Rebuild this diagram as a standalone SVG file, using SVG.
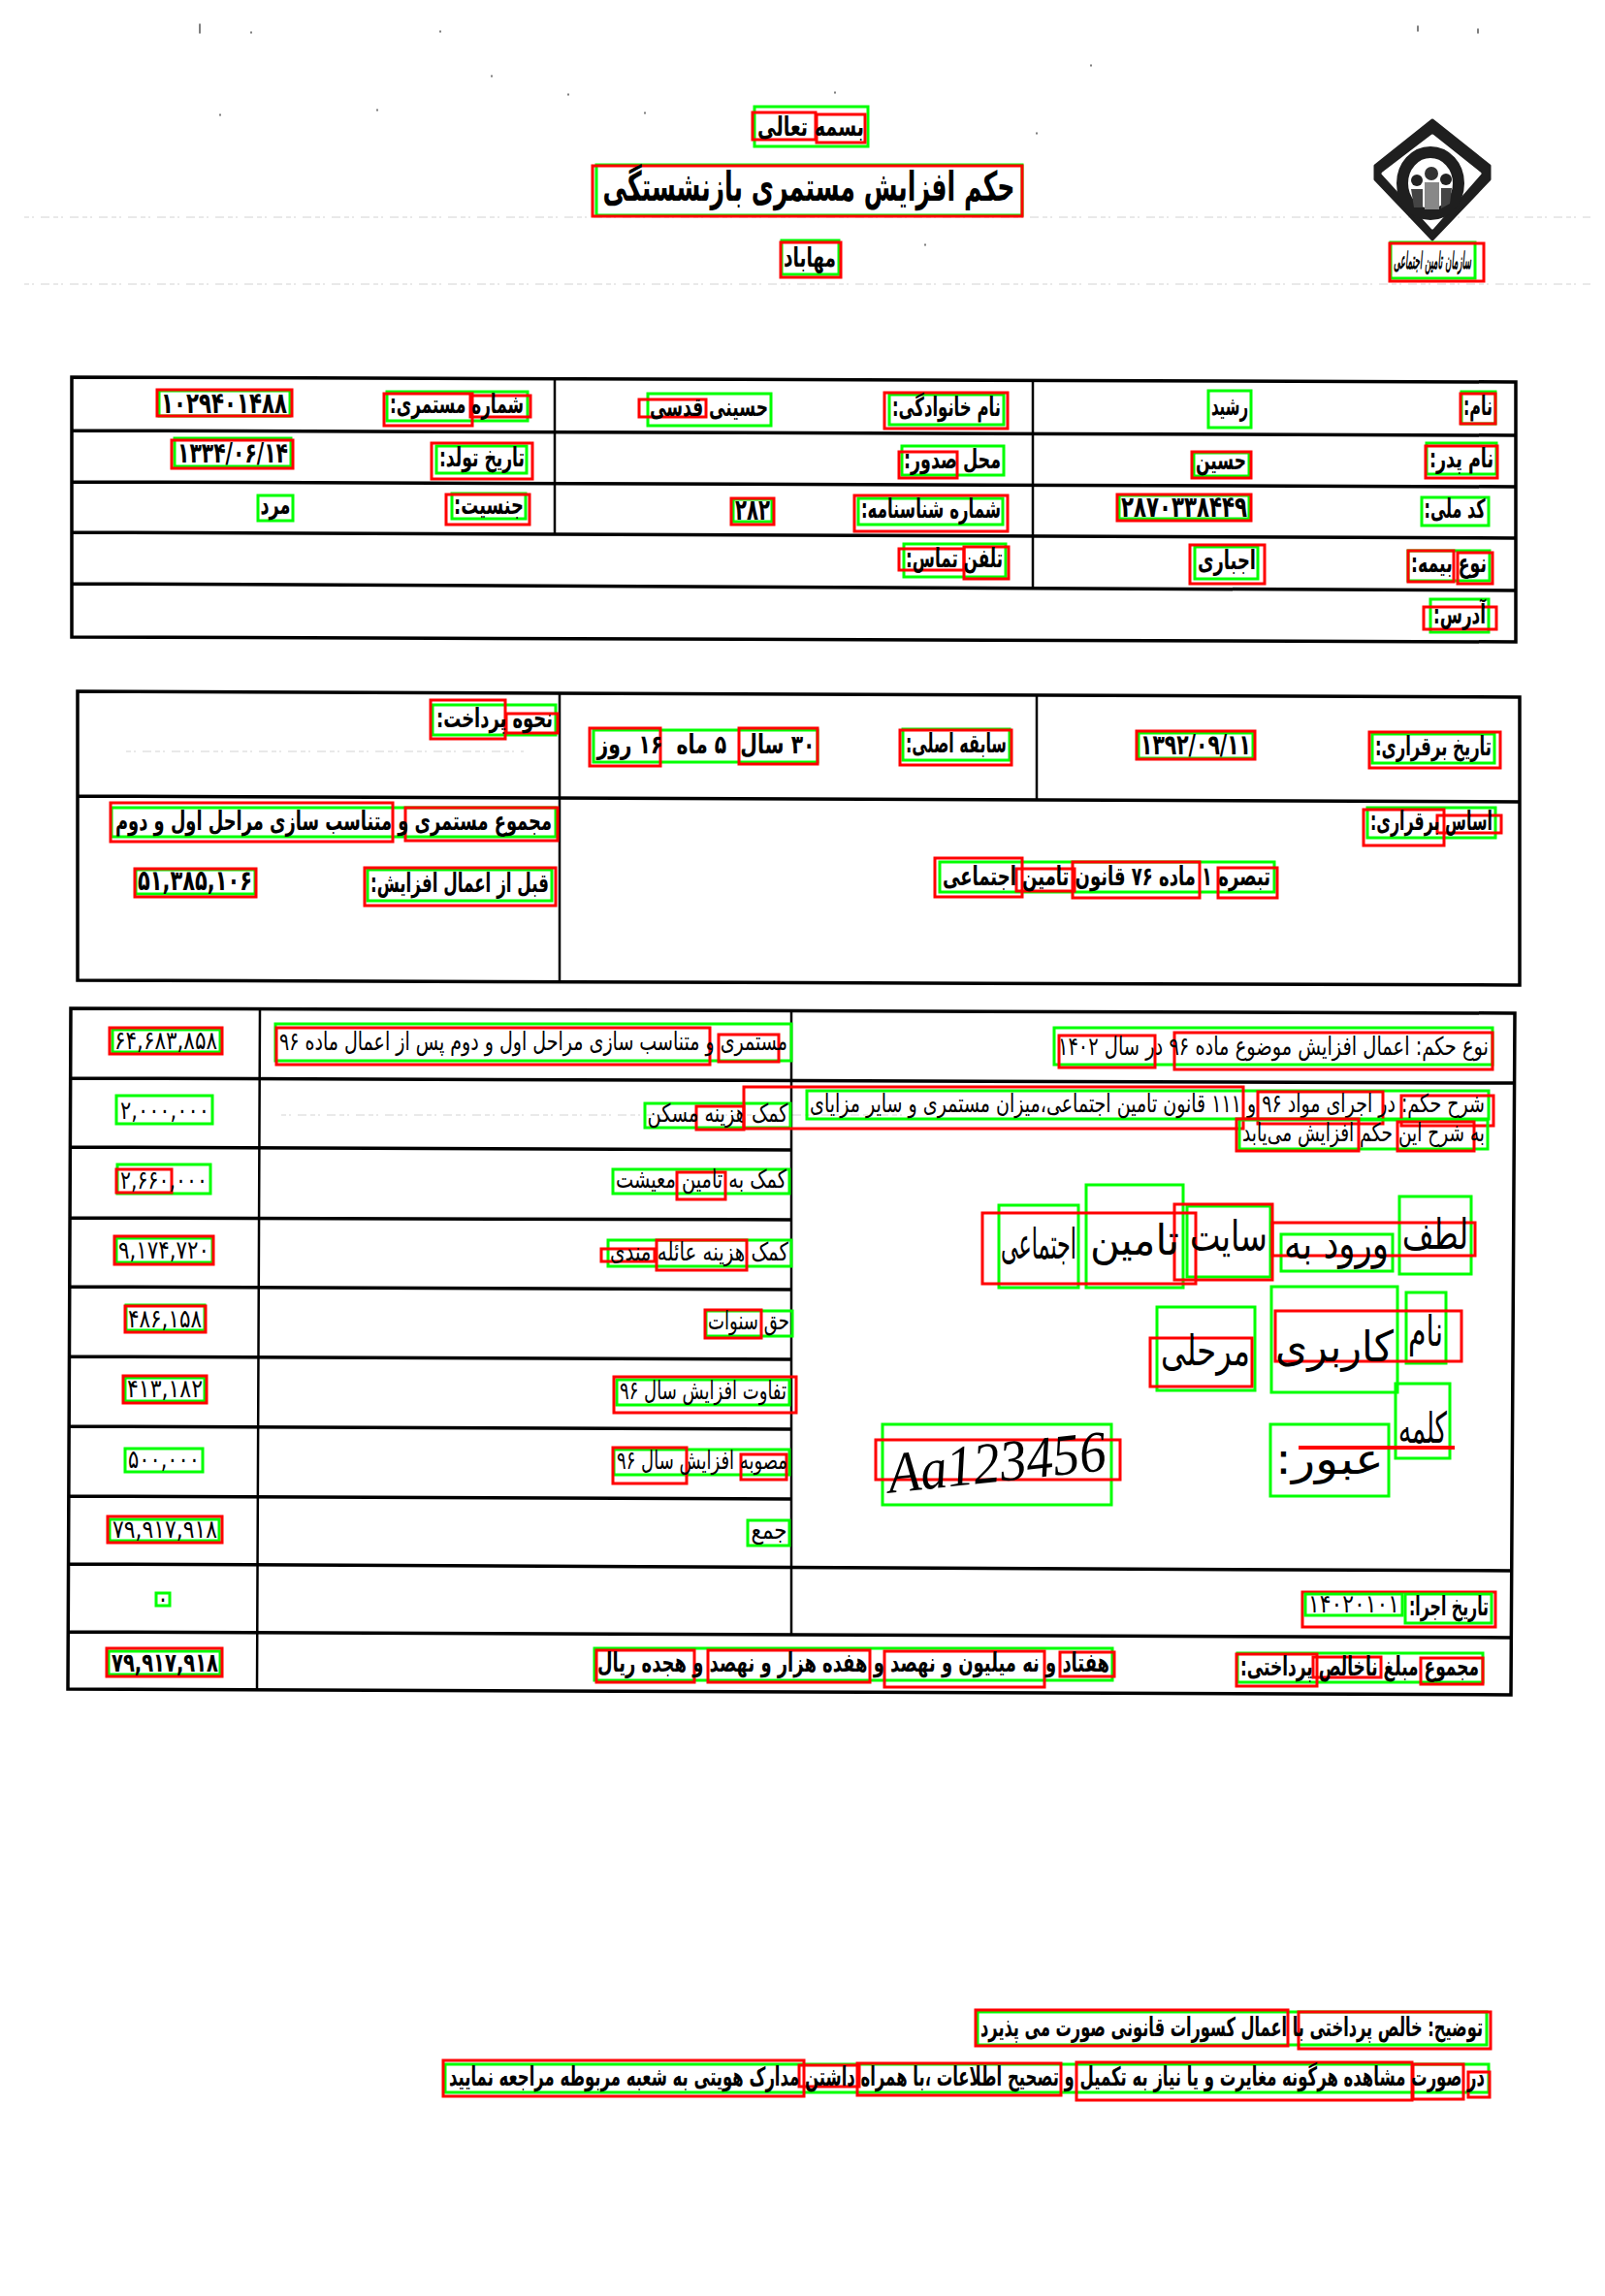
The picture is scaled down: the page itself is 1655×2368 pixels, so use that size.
<svg xmlns="http://www.w3.org/2000/svg" width="1655" height="2368" viewBox="0 0 1655 2368">
<style>
text{font-family:"DejaVu Sans",sans-serif;direction:rtl;text-anchor:middle;fill:#000;font-size:27px;font-weight:700}
.l{font-weight:400;font-size:26px}
.g{fill:none;stroke:#0f0;stroke-width:3}
.r{fill:none;stroke:#f00;stroke-width:3}
.t{fill:none;stroke:#000;stroke-width:3.5}
.v{fill:none;stroke:#000;stroke-width:2.5}
.n{fill:none;stroke:#e2e2e2;stroke-width:1.5;stroke-dasharray:5 3 2 7 9 4}
.d{fill:none;stroke:#555;stroke-width:1.5;stroke-linecap:round}
.h{font-weight:400;font-size:44px}
</style>
<rect width="1655" height="2368" fill="#fff"/>
<g id="scan-noise">
<path class="n" d="M25 224H1640M25 293H1640M290 1150H930M130 775H540"/>
<path class="d" d="M206 25v9M454 32v1M259 33v1M507 78v1M586 97v1M227 118v1M389 113v1M665 116v1M1069 137v1M954 252v1M1462 27v5M1524 30v4M861 95v1M1125 67v1"/>
</g>
<g id="logo">
<path fill="#1f1f1f" stroke="#1f1f1f" stroke-width="3" stroke-linejoin="round" d="M1477 124L1536 171V185L1477 247L1418 185V171Z"/>
<path fill="#fff" stroke="#fff" stroke-width="3" stroke-linejoin="round" d="M1477 140L1526 179L1477 235L1426 179Z"/>
<ellipse cx="1475" cy="189" rx="29" ry="32" fill="none" stroke="#1f1f1f" stroke-width="12"/>
<circle cx="1461" cy="186" r="6" fill="#222"/><circle cx="1476" cy="179" r="7" fill="#333"/><circle cx="1491" cy="185" r="6" fill="#222"/>
<path fill="#444" d="M1455 195h12v19h-9zM1486 194h11l-2 16-9 5z"/><path fill="#888" d="M1469 188h15v28h-15z"/>
</g>
<g id="table-1">
<path class="t" d="M74 389L1563 394V662L74 657ZM74 444L1563 449M74 497L1563 502M74 549L1563 555M74 602L1563 609"/>
<path class="v" d="M572 391V551M1065 392V608"/>
</g>
<g id="table-2">
<path class="t" d="M80 713L1567 719V1016L80 1011ZM80 821L1567 827"/>
<path class="v" d="M577 714V1012M1069 717V825"/>
</g>
<g id="table-3">
<path class="t" d="M73 1040L1562 1045L1558 1748L70 1742ZM72 1112L1561 1117M72 1183L816 1186M72 1256L816 1258M72 1327L816 1330M72 1399L816 1402M71 1471L816 1474M71 1543L816 1546M71 1613L1560 1620M70 1683L1559 1689"/>
<path class="v" d="M268 1041L265 1743M816 1043V1686"/>
</g>

<g id="n-basmeh"><rect class="g" x="778" y="110" width="117" height="41"/><rect class="r" x="776" y="116" width="65" height="28"/><rect class="r" x="842" y="118" width="50" height="29"/><text x="836" y="140" textLength="110" lengthAdjust="spacingAndGlyphs">بسمه تعالی</text></g>
<g id="n-title"><rect class="g" x="615" y="170" width="439" height="52"/><rect class="r" x="611" y="171" width="443" height="52"/><text x="834" y="207" style="font-size:42px" textLength="425" lengthAdjust="spacingAndGlyphs">حکم افزایش مستمری بازنشستگی</text></g>
<g id="n-mahabad"><rect class="g" x="806" y="248" width="59" height="35"/><rect class="r" x="805" y="250" width="62" height="36"/><text x="835" y="275" style="font-size:28px" textLength="54" lengthAdjust="spacingAndGlyphs">مهاباد</text></g>
<g id="n-sazman"><rect class="g" x="1434" y="250" width="87" height="37"/><rect class="r" x="1433" y="251" width="97" height="39"/><text x="1477" y="277" style="font-size:24px;font-style:italic" textLength="80" lengthAdjust="spacingAndGlyphs">سازمان تامین اجتماعی</text></g>

<g id="n-nam"><rect class="g" x="1507" y="404" width="35" height="33"/><rect class="r" x="1506" y="406" width="36" height="31"/><text x="1524" y="428" textLength="30" lengthAdjust="spacingAndGlyphs">نام:</text></g>
<g id="n-rashid"><rect class="g" x="1246" y="403" width="44" height="38"/><text x="1268" y="428" textLength="38" lengthAdjust="spacingAndGlyphs">رشید</text></g>
<g id="n-khanevadegi"><rect class="g" x="917" y="407" width="118" height="31"/><rect class="r" x="912" y="405" width="127" height="37"/><text x="976" y="429" textLength="112" lengthAdjust="spacingAndGlyphs">نام خانوادگی:</text></g>
<g id="n-hoseini"><rect class="g" x="668" y="406" width="127" height="33"/><rect class="r" x="659" y="412" width="69" height="18"/><text x="731" y="429" textLength="122" lengthAdjust="spacingAndGlyphs">حسینی قدسی</text></g>
<g id="n-shomareh"><rect class="g" x="399" y="404" width="145" height="30"/><rect class="r" x="396" y="406" width="91" height="33"/><rect class="r" x="485" y="408" width="62" height="22"/><text x="471" y="426" textLength="138" lengthAdjust="spacingAndGlyphs">شماره مستمری:</text></g>
<g id="n-num1"><rect class="g" x="164" y="403" width="135" height="26"/><rect class="r" x="162" y="402" width="139" height="27"/><text x="231" y="426" style="font-size:30px" textLength="130" lengthAdjust="spacingAndGlyphs">۱۰۲۹۴۰۱۴۸۸</text></g>

<g id="n-pedar"><rect class="g" x="1471" y="457" width="72" height="32"/><rect class="r" x="1470" y="460" width="74" height="33"/><text x="1507" y="482" textLength="66" lengthAdjust="spacingAndGlyphs">نام پدر:</text></g>
<g id="n-hosein"><rect class="g" x="1231" y="467" width="57" height="24"/><rect class="r" x="1229" y="466" width="61" height="27"/><text x="1259" y="484" textLength="52" lengthAdjust="spacingAndGlyphs">حسین</text></g>
<g id="n-sodour"><rect class="g" x="930" y="460" width="105" height="30"/><rect class="r" x="927" y="466" width="60" height="27"/><text x="982" y="483" textLength="100" lengthAdjust="spacingAndGlyphs">محل صدور:</text></g>
<g id="n-tavallod"><rect class="g" x="450" y="460" width="93" height="28"/><rect class="r" x="445" y="457" width="104" height="37"/><text x="497" y="481" textLength="88" lengthAdjust="spacingAndGlyphs">تاریخ تولد:</text></g>
<g id="n-date1"><rect class="g" x="180" y="452" width="120" height="29"/><rect class="r" x="177" y="454" width="125" height="29"/><text x="240" y="477" style="font-size:29px" textLength="114" lengthAdjust="spacingAndGlyphs">۱۳۳۴/۰۶/۱۴</text></g>

<g id="n-melli"><rect class="g" x="1466" y="513" width="69" height="29"/><text x="1500" y="534" textLength="63" lengthAdjust="spacingAndGlyphs">کد ملی:</text></g>
<g id="n-melli-num"><rect class="g" x="1154" y="511" width="134" height="24"/><rect class="r" x="1152" y="510" width="138" height="27"/><text x="1221" y="533" style="font-size:30px" textLength="130" lengthAdjust="spacingAndGlyphs">۲۸۷۰۳۳۸۴۴۹</text></g>
<g id="n-shenasnameh"><rect class="g" x="885" y="514" width="149" height="27"/><rect class="r" x="881" y="511" width="158" height="37"/><text x="960" y="534" textLength="144" lengthAdjust="spacingAndGlyphs">شماره شناسنامه:</text></g>
<g id="n-282"><rect class="g" x="756" y="515" width="40" height="23"/><rect class="r" x="754" y="514" width="44" height="27"/><text x="776" y="536" style="font-size:30px" textLength="36" lengthAdjust="spacingAndGlyphs">۲۸۲</text></g>
<g id="n-jensiat"><rect class="g" x="466" y="509" width="76" height="26"/><rect class="r" x="460" y="510" width="86" height="31"/><text x="504" y="530" textLength="72" lengthAdjust="spacingAndGlyphs">جنسیت:</text></g>
<g id="n-mard"><rect class="g" x="266" y="511" width="36" height="26"/><text x="284" y="530" textLength="31" lengthAdjust="spacingAndGlyphs">مرد</text></g>

<g id="n-bimeh"><rect class="g" x="1452" y="568" width="84" height="31"/><rect class="r" x="1503" y="570" width="36" height="32"/><rect class="r" x="1452" y="568" width="47" height="32"/><text x="1494" y="590" textLength="78" lengthAdjust="spacingAndGlyphs">نوع بیمه:</text></g>
<g id="n-ejbari"><rect class="g" x="1232" y="564" width="65" height="33"/><rect class="r" x="1227" y="562" width="77" height="40"/><text x="1265" y="587" textLength="60" lengthAdjust="spacingAndGlyphs">اجباری</text></g>
<g id="n-telefon"><rect class="g" x="932" y="561" width="105" height="34"/><rect class="r" x="994" y="564" width="46" height="33"/><rect class="r" x="927" y="566" width="67" height="22"/><text x="984" y="585" textLength="100" lengthAdjust="spacingAndGlyphs">تلفن تماس:</text></g>
<g id="n-address"><rect class="g" x="1475" y="618" width="60" height="34"/><rect class="r" x="1468" y="626" width="75" height="23"/><text x="1505" y="643" textLength="54" lengthAdjust="spacingAndGlyphs">آدرس:</text></g>

<g id="n-nahve"><rect class="g" x="446" y="727" width="127" height="31"/><rect class="r" x="444" y="722" width="77" height="40"/><rect class="r" x="522" y="736" width="53" height="20"/><text x="510" y="750" textLength="120" lengthAdjust="spacingAndGlyphs">نحوه پرداخت:</text></g>
<g id="n-sabegheh-val"><rect class="g" x="612" y="753" width="231" height="33"/><rect class="r" x="608" y="751" width="73" height="39"/><rect class="r" x="762" y="751" width="81" height="37"/><text x="728" y="777" textLength="225" lengthAdjust="spacingAndGlyphs" xml:space="preserve">۳۰ سال  ۵ ماه  ۱۶ روز</text></g>
<g id="n-sabegheh"><rect class="g" x="931" y="752" width="110" height="32"/><rect class="r" x="928" y="753" width="115" height="36"/><text x="986" y="776" textLength="104" lengthAdjust="spacingAndGlyphs">سابقه اصلی:</text></g>
<g id="n-date2"><rect class="g" x="1174" y="756" width="118" height="26"/><rect class="r" x="1172" y="754" width="122" height="29"/><text x="1233" y="778" style="font-size:29px" textLength="114" lengthAdjust="spacingAndGlyphs">۱۳۹۲/۰۹/۱۱</text></g>
<g id="n-bargharari"><rect class="g" x="1415" y="757" width="126" height="30"/><rect class="r" x="1412" y="755" width="135" height="37"/><text x="1478" y="779" textLength="120" lengthAdjust="spacingAndGlyphs">تاریخ برقراری:</text></g>
<g id="n-asas"><rect class="g" x="1410" y="833" width="132" height="31"/><rect class="r" x="1406" y="835" width="83" height="37"/><rect class="r" x="1482" y="841" width="66" height="18"/><text x="1476" y="856" textLength="126" lengthAdjust="spacingAndGlyphs">اساس برقراری:</text></g>
<g id="n-tabsareh"><rect class="g" x="969" y="889" width="345" height="31"/><rect class="r" x="964" y="885" width="90" height="40"/><rect class="r" x="1048" y="896" width="60" height="23"/><rect class="r" x="1106" y="889" width="131" height="37"/><rect class="r" x="1256" y="895" width="61" height="31"/><text x="1141" y="913" textLength="338" lengthAdjust="spacingAndGlyphs">تبصره ۱ ماده ۷۶ قانون تامین اجتماعی</text></g>
<g id="n-majmoo"><rect class="g" x="115" y="833" width="458" height="30"/><rect class="r" x="114" y="828" width="291" height="40"/><rect class="r" x="418" y="833" width="157" height="34"/><text x="344" y="856" textLength="450" lengthAdjust="spacingAndGlyphs">مجموع مستمری و متناسب سازی مراحل اول و دوم</text></g>
<g id="n-ghabl"><rect class="g" x="379" y="897" width="190" height="32"/><rect class="r" x="376" y="895" width="197" height="39"/><text x="474" y="920" textLength="184" lengthAdjust="spacingAndGlyphs">قبل از اعمال افزایش:</text></g>
<g id="n-num2"><rect class="g" x="140" y="897" width="123" height="25"/><rect class="r" x="139" y="896" width="125" height="29"/><text x="201" y="918" style="font-size:29px" textLength="118" lengthAdjust="spacingAndGlyphs">۵۱,۳۸۵,۱۰۶</text></g>

<g id="n-v1"><rect class="g" x="116" y="1062" width="111" height="23"/><rect class="r" x="113" y="1060" width="116" height="27"/><text class="l" x="171" y="1082" textLength="106" lengthAdjust="spacingAndGlyphs">۶۴,۶۸۳,۸۵۸</text></g>
<g id="n-d1"><rect class="g" x="284" y="1056" width="532" height="38"/><rect class="r" x="285" y="1060" width="447" height="38"/><rect class="r" x="741" y="1067" width="62" height="28"/><text class="l" x="550" y="1083" textLength="524" lengthAdjust="spacingAndGlyphs">مستمری و متناسب سازی مراحل اول و دوم پس از اعمال ماده ۹۶</text></g>
<g id="n-v2"><rect class="g" x="120" y="1130" width="99" height="29"/><text class="l" x="170" y="1154" textLength="92" lengthAdjust="spacingAndGlyphs">۲,۰۰۰,۰۰۰</text></g>
<g id="n-d2"><rect class="g" x="665" y="1138" width="150" height="25"/><rect class="r" x="718" y="1141" width="49" height="24"/><text class="l" x="740" y="1157" textLength="145" lengthAdjust="spacingAndGlyphs">کمک هزینه مسکن</text></g>
<g id="n-v3"><rect class="g" x="121" y="1201" width="96" height="30"/><rect class="r" x="120" y="1206" width="57" height="24"/><text class="l" x="169" y="1226" textLength="90" lengthAdjust="spacingAndGlyphs">۲,۶۶۰,۰۰۰</text></g>
<g id="n-d3"><rect class="g" x="632" y="1206" width="182" height="25"/><rect class="r" x="698" y="1209" width="50" height="28"/><text class="l" x="723" y="1225" textLength="176" lengthAdjust="spacingAndGlyphs">کمک به تامین معیشت</text></g>
<g id="n-v4"><rect class="g" x="120" y="1277" width="99" height="25"/><rect class="r" x="118" y="1275" width="102" height="29"/><text class="l" x="169" y="1298" textLength="94" lengthAdjust="spacingAndGlyphs">۹,۱۷۴,۷۲۰</text></g>
<g id="n-d4"><rect class="g" x="627" y="1279" width="189" height="27"/><rect class="r" x="677" y="1279" width="93" height="31"/><rect class="r" x="620" y="1288" width="55" height="13"/><text class="l" x="721" y="1300" textLength="184" lengthAdjust="spacingAndGlyphs">کمک هزینه عائله مندی</text></g>
<g id="n-v5"><rect class="g" x="130" y="1346" width="81" height="26"/><rect class="r" x="129" y="1347" width="83" height="27"/><text class="l" x="170" y="1369" textLength="76" lengthAdjust="spacingAndGlyphs">۴۸۶,۱۵۸</text></g>
<g id="n-d5"><rect class="g" x="728" y="1352" width="89" height="26"/><rect class="r" x="727" y="1351" width="58" height="29"/><text class="l" x="772" y="1371" textLength="84" lengthAdjust="spacingAndGlyphs">حق سنوات</text></g>
<g id="n-v6"><rect class="g" x="129" y="1421" width="82" height="24"/><rect class="r" x="127" y="1419" width="86" height="28"/><text class="l" x="170" y="1441" textLength="78" lengthAdjust="spacingAndGlyphs">۴۱۳,۱۸۲</text></g>
<g id="n-d6"><rect class="g" x="636" y="1423" width="178" height="26"/><rect class="r" x="633" y="1420" width="188" height="37"/><text class="l" x="725" y="1443" textLength="172" lengthAdjust="spacingAndGlyphs">تفاوت افزایش سال ۹۶</text></g>
<g id="n-v7"><rect class="g" x="129" y="1494" width="80" height="24"/><text class="l" x="169" y="1514" textLength="74" lengthAdjust="spacingAndGlyphs">۵۰۰,۰۰۰</text></g>
<g id="n-d7"><rect class="g" x="633" y="1495" width="181" height="26"/><rect class="r" x="632" y="1493" width="76" height="37"/><rect class="r" x="764" y="1500" width="47" height="26"/><text class="l" x="724" y="1515" textLength="176" lengthAdjust="spacingAndGlyphs">مصوبه افزایش سال ۹۶</text></g>
<g id="n-v8"><rect class="g" x="113" y="1567" width="113" height="22"/><rect class="r" x="111" y="1564" width="118" height="27"/><text class="l" x="170" y="1586" textLength="108" lengthAdjust="spacingAndGlyphs">۷۹,۹۱۷,۹۱۸</text></g>
<g id="n-d8"><rect class="g" x="771" y="1568" width="43" height="26"/><text class="l" x="793" y="1587" textLength="37" lengthAdjust="spacingAndGlyphs">جمع</text></g>
<g id="n-v9"><rect class="g" x="161" y="1643" width="14" height="13"/><text x="168" y="1656" style="font-size:20px" textLength="8" lengthAdjust="spacingAndGlyphs">۰</text></g>
<g id="n-v10"><rect class="g" x="112" y="1703" width="115" height="24"/><rect class="r" x="110" y="1700" width="119" height="29"/><text x="170" y="1724" textLength="110" lengthAdjust="spacingAndGlyphs">۷۹,۹۱۷,۹۱۸</text></g>
<g id="n-horoof"><rect class="g" x="613" y="1700" width="534" height="33"/><rect class="r" x="615" y="1702" width="101" height="33"/><rect class="r" x="730" y="1702" width="167" height="33"/><rect class="r" x="912" y="1703" width="165" height="37"/><rect class="r" x="1093" y="1704" width="56" height="25"/><text x="880" y="1724" textLength="528" lengthAdjust="spacingAndGlyphs">هفتاد و نه میلیون و نهصد و هفده هزار و نهصد و هجده ریال</text></g>
<g id="n-nakhales"><rect class="g" x="1276" y="1705" width="253" height="30"/><rect class="r" x="1275" y="1706" width="83" height="33"/><rect class="r" x="1354" y="1709" width="70" height="21"/><rect class="r" x="1465" y="1710" width="64" height="27"/><text x="1402" y="1728" textLength="246" lengthAdjust="spacingAndGlyphs">مجموع مبلغ ناخالص پرداختی:</text></g>
<g id="n-ejra"><rect class="r" x="1343" y="1642" width="199" height="36"/><rect class="g" x="1346" y="1644" width="100" height="22"/><rect class="g" x="1449" y="1644" width="89" height="30"/><text class="l" x="1396" y="1663" textLength="94" lengthAdjust="spacingAndGlyphs">۱۴۰۲۰۱۰۱</text><text x="1494" y="1666" textLength="82" lengthAdjust="spacingAndGlyphs">تاریخ اجرا:</text></g>

<g id="n-noe"><rect class="g" x="1087" y="1060" width="452" height="38"/><rect class="r" x="1092" y="1068" width="99" height="33"/><rect class="r" x="1211" y="1065" width="328" height="38"/><text class="l" x="1313" y="1088" textLength="444" lengthAdjust="spacingAndGlyphs">نوع حکم: اعمال افزایش موضوع ماده ۹۶ در سال ۱۴۰۲</text></g>
<g id="n-sharh"><rect class="g" x="832" y="1125" width="703" height="29"/><rect class="r" x="1445" y="1130" width="95" height="31"/><rect class="r" x="1297" y="1126" width="129" height="33"/><rect class="r" x="767" y="1121" width="515" height="43"/><text class="l" x="1183" y="1147" textLength="696" lengthAdjust="spacingAndGlyphs">شرح حکم: در اجرای مواد ۹۶ و ۱۱۱ قانون تامین اجتماعی،میزان مستمری و سایر مزایای</text></g>
<g id="n-sharh2"><rect class="g" x="1278" y="1155" width="256" height="30"/><rect class="r" x="1275" y="1154" width="126" height="33"/><rect class="r" x="1441" y="1157" width="79" height="30"/><text class="l" x="1406" y="1177" textLength="250" lengthAdjust="spacingAndGlyphs">به شرح این حکم افزایش می‌یابد</text></g>

<g id="n-hw1"><rect class="g" x="1030" y="1243" width="82" height="85"/><rect class="g" x="1120" y="1222" width="100" height="106"/><rect class="g" x="1224" y="1244" width="86" height="73"/><rect class="g" x="1321" y="1273" width="115" height="38"/><rect class="g" x="1443" y="1234" width="74" height="80"/><rect class="r" x="1013" y="1251" width="220" height="73"/><rect class="r" x="1211" y="1242" width="101" height="78"/><rect class="r" x="1312" y="1261" width="209" height="34"/>
<text class="h" x="1071" y="1298" textLength="78" lengthAdjust="spacingAndGlyphs">اجتماعی</text><text class="h" x="1170" y="1294" textLength="92" lengthAdjust="spacingAndGlyphs">تامین</text><text class="h" x="1267" y="1290" textLength="80" lengthAdjust="spacingAndGlyphs">سایت</text><text class="h" x="1378" y="1298" textLength="108" lengthAdjust="spacingAndGlyphs">ورود به</text><text class="h" x="1480" y="1288" textLength="68" lengthAdjust="spacingAndGlyphs">لطف</text></g>
<g id="n-hw2"><rect class="g" x="1193" y="1348" width="101" height="86"/><rect class="r" x="1186" y="1380" width="105" height="50"/><rect class="g" x="1311" y="1327" width="130" height="109"/><rect class="g" x="1450" y="1333" width="41" height="73"/><rect class="r" x="1315" y="1352" width="192" height="52"/>
<text class="h" x="1243" y="1408" textLength="92" lengthAdjust="spacingAndGlyphs">مرحلی</text><text class="h" x="1376" y="1404" textLength="122" lengthAdjust="spacingAndGlyphs">کاربری</text><text class="h" x="1470" y="1388" textLength="36" lengthAdjust="spacingAndGlyphs">نام</text></g>
<g id="n-hw3"><rect class="g" x="1310" y="1469" width="122" height="74"/><rect class="g" x="1439" y="1427" width="56" height="77"/>
<text class="h" x="1371" y="1520" textLength="112" lengthAdjust="spacingAndGlyphs">عبور:</text><text class="h" x="1467" y="1488" textLength="50" lengthAdjust="spacingAndGlyphs">کلمه</text><path stroke="#f00" stroke-width="4" d="M1339 1493H1500"/></g>
<g id="n-hw4"><rect class="g" x="910" y="1469" width="236" height="83"/><rect class="r" x="903" y="1485" width="252" height="41"/>
<text x="1028" y="1528" transform="rotate(-6 1028 1510)" textLength="226" lengthAdjust="spacingAndGlyphs" style="direction:ltr;font-family:'Liberation Serif',serif;font-style:italic;font-weight:400;font-size:60px">Aa123456</text></g>

<g id="n-note1"><rect class="g" x="1008" y="2075" width="525" height="34"/><rect class="r" x="1006" y="2073" width="322" height="37"/><rect class="r" x="1339" y="2075" width="198" height="38"/><text x="1270" y="2100" textLength="518" lengthAdjust="spacingAndGlyphs">توضیح: خالص پرداختی با اعمال کسورات قانونی صورت می پذیرد</text></g>
<g id="n-note2"><rect class="g" x="459" y="2129" width="1076" height="29"/><rect class="r" x="457" y="2125" width="372" height="37"/><rect class="r" x="824" y="2130" width="62" height="22"/><rect class="r" x="884" y="2128" width="210" height="33"/><rect class="r" x="1110" y="2127" width="346" height="39"/><rect class="r" x="1457" y="2129" width="52" height="36"/><rect class="r" x="1514" y="2137" width="22" height="26"/><text x="997" y="2151" textLength="1068" lengthAdjust="spacingAndGlyphs">در صورت مشاهده هرگونه مغایرت و یا نیاز به تکمیل و تصحیح اطلاعات ،با همراه داشتن مدارک هویتی به شعبه مربوطه مراجعه نمایید</text></g>
</svg>
